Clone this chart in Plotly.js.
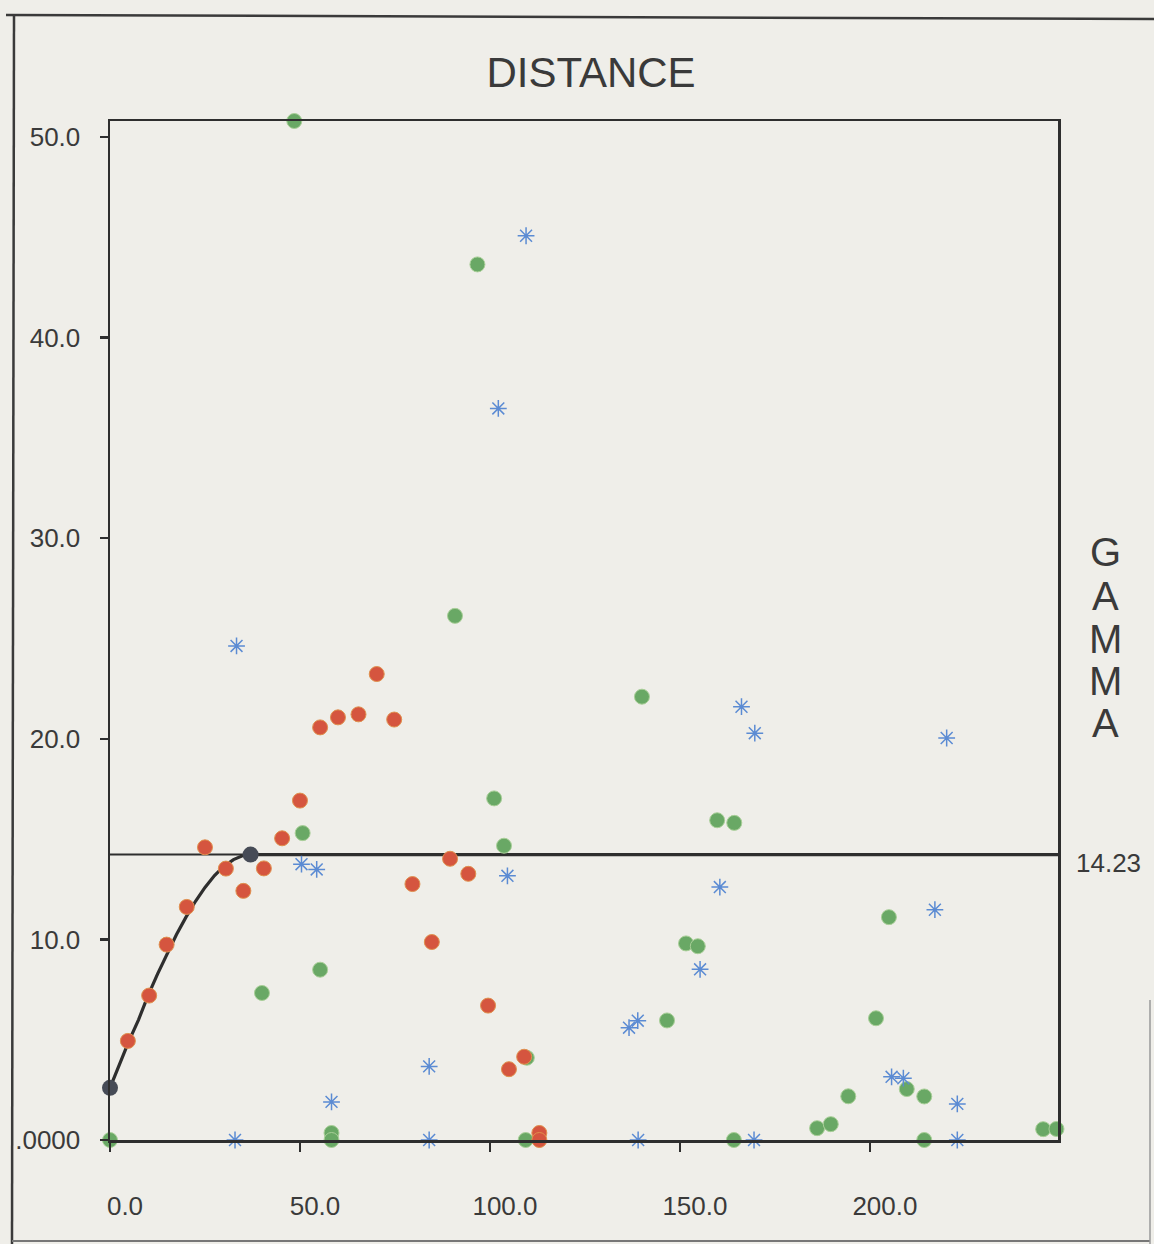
<!DOCTYPE html>
<html>
<head>
<meta charset="utf-8">
<script src="https://cdn.plot.ly/plotly-3.0.1.min.js"></script>
<style>
html,body{margin:0;padding:0;background:#efeee9;}
#chart{width:1154px;height:1244px;}
</style>
</head>
<body>
<div id="chart"></div>
<script>
// ---- data ----
var redX = [4.7,10.3,14.9,20.2,25.0,30.5,35.1,40.5,45.3,50.0,55.3,60.0,65.4,70.2,74.8,79.6,84.7,89.5,94.3,99.5,105.0,109.0,113.0,113.0];
var redY = [4.94,7.20,9.74,11.62,14.59,13.53,12.42,13.54,15.04,16.92,20.57,21.07,21.22,23.23,20.96,12.76,9.87,14.02,13.27,6.70,3.53,4.15,0.35,0.0];

var greenX = [0,48.5,50.7,55.3,58.3,58.3,40.0,90.8,96.7,101.1,103.7,109.4,109.7,140.0,146.6,151.6,154.7,159.8,164.3,164.2,186.1,189.7,194.3,201.6,205.0,209.7,214.3,214.3,245.6,249.1];
var greenY = [0,50.8,15.30,8.49,0.35,0,7.33,26.13,43.65,17.03,14.67,0,4.1,22.1,5.96,9.80,9.66,15.94,15.81,0,0.59,0.79,2.18,6.07,11.11,2.54,2.17,0,0.54,0.55];

var blueX = [33.3,32.9,50.4,54.4,58.3,84.0,84.0,102.2,104.6,109.5,136.6,138.9,139.0,155.3,160.5,166.2,169.7,169.5,205.7,208.8,217.1,220.2,223.0,223.0];
var blueY = [24.63,0,13.75,13.49,1.90,3.67,0,36.47,13.17,45.08,5.60,5.95,0,8.51,12.61,21.6,20.28,0,3.15,3.08,11.48,20.04,1.80,0];

var modelX = [0,2.5,5,7.5,10,12.5,15,17.5,20,22.5,25,27.5,30,32.5,35,37,249.5];
var modelY = [2.60,3.78,4.94,5.99,7.20,8.27,9.28,10.24,11.11,11.90,12.59,13.18,13.65,13.98,14.18,14.23,14.23];

var anchorX = [0,37];
var anchorY = [2.60,14.23];

var sillValue = 14.23;
var sillLabel = '14.23';
var xMax = 249.5;
var yMax = 50.8;

var xTickVals = [0,50,100,150,200];
var xTickText = ['0.0','50.0','100.0','150.0','200.0'];
var yTickVals = [0,10,20,30,40,50];
var yTickText = ['.0000','10.0','20.0','30.0','40.0','50.0'];

var titleText = 'DISTANCE';
var yLabel = 'GAMMA';

// ---- styling ----
var FONT = 'Liberation Sans, Arial, Helvetica, sans-serif';
var INK = '#2e2e2e';
var TXT = '#3a3a3a';
var BG = '#efeee9';

var traces = [
  {x:[0,xMax], y:[sillValue,sillValue], mode:'lines', line:{color:INK,width:2}, hoverinfo:'skip', showlegend:false},
  {x:modelX, y:modelY, mode:'lines', line:{color:INK,width:3.2}, showlegend:false},
  {x:greenX, y:greenY, mode:'markers', cliponaxis:false,
   marker:{symbol:'circle', size:15, color:'#69a865', line:{color:'#a9cf98',width:1}}, showlegend:false},
  {x:redX, y:redY, mode:'markers', cliponaxis:false,
   marker:{symbol:'circle', size:15, color:'#d5553f', line:{color:'#e0904e',width:1}}, showlegend:false},
  {x:blueX, y:blueY, mode:'markers', cliponaxis:false,
   marker:{symbol:'asterisk-open', size:14, color:'#5b8bd3', line:{color:'#5b8bd3',width:1.5}}, showlegend:false},
  {x:anchorX, y:anchorY, mode:'markers', cliponaxis:false,
   marker:{symbol:'circle', size:16, color:'#464b56'}, showlegend:false}
];

var L = 110, R = 96, T = 121, B = 104, W = 1154, H = 1244;
var pw = W - L - R, ph = H - T - B;
function px2paper(px){ return (px - L) / pw; }
function py2paper(py){ return (H - B - py) / ph; }

var annotations = [];
var letters = yLabel.split('');
var letterY = [552, 596, 639, 681, 723];
for (var i = 0; i < letters.length; i++) {
  annotations.push({text: letters[i], xref:'paper', yref:'paper', x:px2paper(1105), y:py2paper(letterY[i]),
    xanchor:'center', yanchor:'middle', showarrow:false, font:{family:FONT, size:40, color:TXT}});
}
annotations.push({text: sillLabel, xref:'paper', yref:'y', x:px2paper(1108), y:sillValue, yshift:-8,
  xanchor:'center', yanchor:'middle', showarrow:false, font:{family:FONT, size:26, color:TXT}});

var frameColor = '#3a3a3a';
var shapes = [
  {type:'line', xref:'paper', yref:'paper', x0:px2paper(6), x1:px2paper(1154), y0:py2paper(15), y1:py2paper(19), line:{color:frameColor,width:2.5}},
  {type:'line', xref:'paper', yref:'paper', x0:px2paper(14), x1:px2paper(12), y0:py2paper(15), y1:py2paper(1244), line:{color:frameColor,width:2.5}},
  {type:'line', xref:'paper', yref:'paper', x0:px2paper(12), x1:px2paper(1150), y0:py2paper(1241), y1:py2paper(1241), line:{color:'#777',width:2}},
  {type:'line', xref:'paper', yref:'paper', x0:px2paper(1150), x1:px2paper(1150), y0:py2paper(1000), y1:py2paper(1244), line:{color:'#999',width:1.5}}
];

var layout = {
  width: W, height: H, autosize:false,
  margin:{l:L, r:R, t:T, b:B, pad:0},
  paper_bgcolor: BG, plot_bgcolor: BG,
  font:{family:FONT, color:TXT},
  title:{text:titleText, font:{family:FONT, size:42, color:TXT}, xref:'paper', x:px2paper(591), xanchor:'center',
         yref:'container', y:1 - 72/H, yanchor:'middle'},
  xaxis:{range:[0,xMax], showgrid:false, zeroline:false, showline:true, mirror:true, linecolor:INK, linewidth:2.5,
         ticks:'outside', ticklen:9, tickwidth:2.5, tickcolor:INK, tickvals:xTickVals, ticktext:xTickText,
         tickfont:{family:FONT, size:26, color:TXT}, ticklabelshift:15, ticklabelstandoff:32, fixedrange:true},
  yaxis:{range:[0,yMax], showgrid:false, zeroline:false, showline:true, mirror:true, linecolor:INK, linewidth:2.5,
         ticks:'outside', ticklen:8, tickwidth:2.5, tickcolor:INK, tickvals:yTickVals, ticktext:yTickText,
         tickfont:{family:FONT, size:26, color:TXT}, ticklabelstandoff:14, fixedrange:true},
  annotations: annotations,
  shapes: shapes
};

Plotly.newPlot('chart', traces, layout, {displayModeBar:false, staticPlot:true});
</script>
</body>
</html>
